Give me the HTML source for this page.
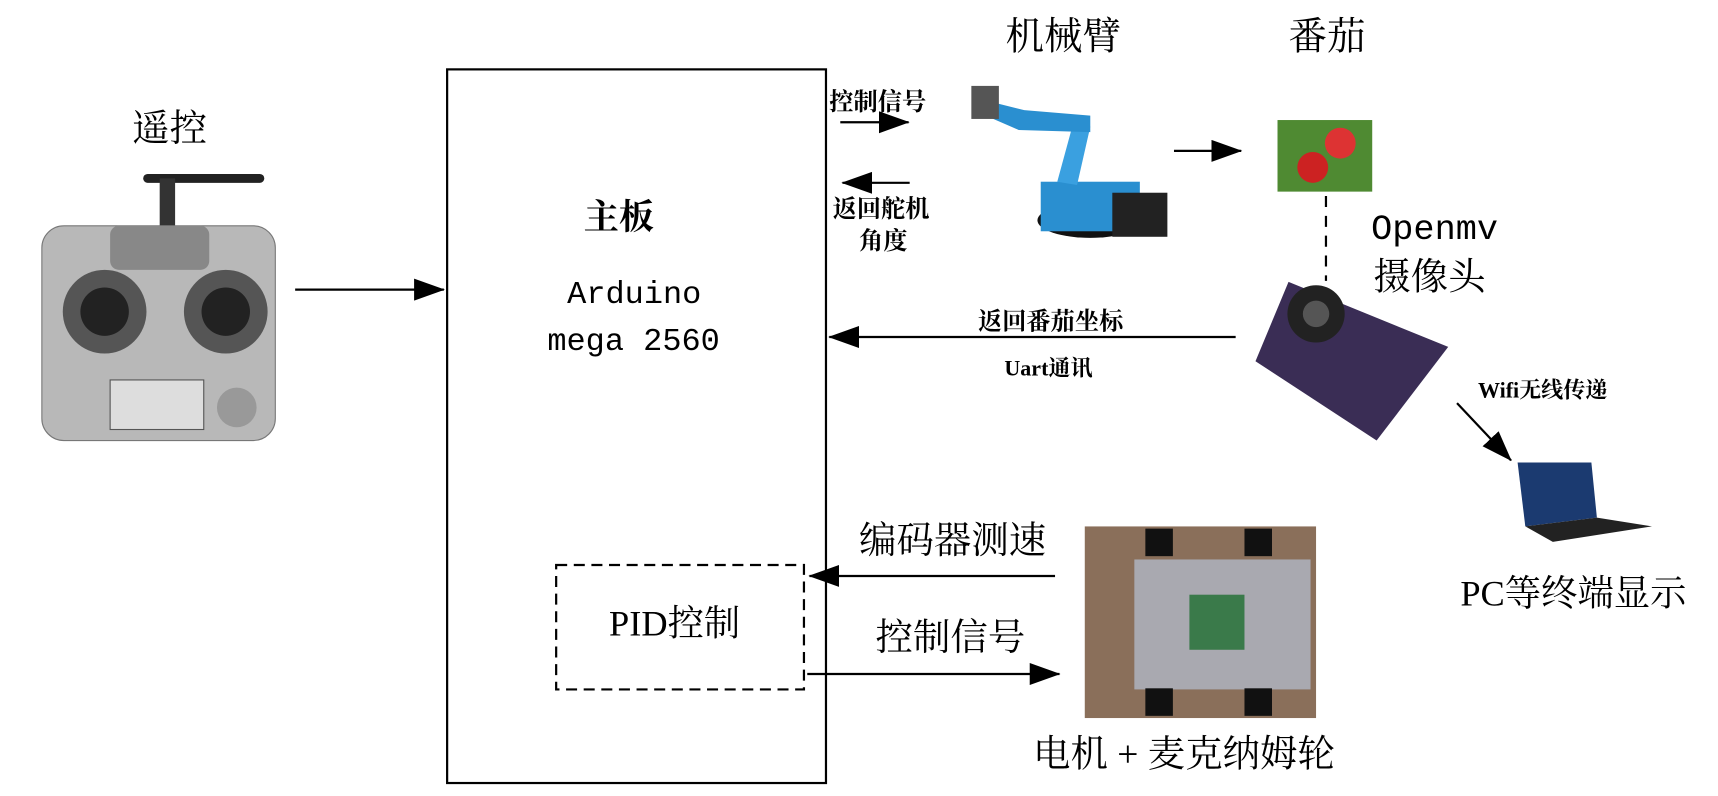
<!DOCTYPE html>
<html><head><meta charset="utf-8"><style>
html,body{margin:0;padding:0;background:#fff;width:1718px;height:796px;overflow:hidden}
#w{position:absolute;left:0;top:0;width:1560px;height:723px;transform:scale(1.1013);transform-origin:0 0}
.t{position:absolute;font-family:"Liberation Serif","Noto Serif CJK SC",serif;color:#000;white-space:nowrap;line-height:1}
.b{font-weight:bold}
.m{font-family:"Liberation Mono","Noto Sans CJK SC",monospace}
</style></head><body><div id="w">
<svg width="1560" height="723" style="position:absolute;left:0;top:0">
<defs><marker id="A" markerWidth="28" markerHeight="20" refX="27" refY="10" orient="auto" markerUnits="userSpaceOnUse"><path d="M0,0 L28,10 L0,20 z" fill="#000"/></marker></defs>
<rect x="406" y="63" width="344" height="648" fill="none" stroke="#000" stroke-width="2"/>
<rect x="505" y="513" width="225" height="113" fill="none" stroke="#000" stroke-width="2" stroke-dasharray="10,6"/>
<g stroke="#000" stroke-width="2" fill="none">
<line x1="268" y1="263" x2="403" y2="263" marker-end="url(#A)"/>
<line x1="763" y1="111" x2="825" y2="111" marker-end="url(#A)"/>
<line x1="826" y1="166" x2="765" y2="166" marker-end="url(#A)"/>
<line x1="1066" y1="137" x2="1127" y2="137" marker-end="url(#A)"/>
<line x1="1204" y1="178" x2="1204" y2="255" stroke-dasharray="10,8"/>
<line x1="1122" y1="306" x2="753" y2="306" marker-end="url(#A)"/>
<line x1="1323" y1="366" x2="1372" y2="418" marker-end="url(#A)"/>
<line x1="958" y1="523" x2="735" y2="523" marker-end="url(#A)"/>
<line x1="733" y1="612" x2="962" y2="612" marker-end="url(#A)"/>
</g>
<rect x="130" y="158" width="110" height="8" rx="4" fill="#222"/>
<rect x="145" y="162" width="14" height="45" fill="#333"/>
<rect x="38" y="205" width="212" height="195" rx="20" fill="#b8b8b8" stroke="#777"/>
<rect x="100" y="205" width="90" height="40" rx="8" fill="#888"/>
<circle cx="95" cy="283" r="38" fill="#555"/><circle cx="95" cy="283" r="22" fill="#222"/>
<circle cx="205" cy="283" r="38" fill="#555"/><circle cx="205" cy="283" r="22" fill="#222"/>
<rect x="100" y="345" width="85" height="45" fill="#ddd" stroke="#555"/>
<circle cx="215" cy="370" r="18" fill="#999"/>
<ellipse cx="990" cy="200" rx="48" ry="16" fill="#111"/>
<rect x="945" y="165" width="90" height="45" fill="#2a8fd0"/>
<rect x="1010" y="175" width="50" height="40" fill="#222"/>
<path d="M960,165 L975,110 L990,115 L978,168 z" fill="#3aa0e0"/>
<path d="M890,90 L930,100 L990,105 L990,120 L925,118 L895,105 z" fill="#2a8fd0"/>
<rect x="882" y="78" width="25" height="30" fill="#555"/>
<rect x="1160" y="109" width="86" height="65" fill="#4f8a32"/>
<circle cx="1217" cy="130" r="14" fill="#d33"/><circle cx="1192" cy="152" r="14" fill="#c22"/>
<polygon points="1170,256 1315,315 1250,400 1140,328" fill="#3a2d55"/>
<circle cx="1195" cy="285" r="26" fill="#222"/><circle cx="1195" cy="285" r="12" fill="#555"/>
<polygon points="1378,420 1445,420 1450,470 1385,478" fill="#1b3a70"/>
<polygon points="1385,478 1450,470 1500,478 1410,492" fill="#222"/>
<rect x="985" y="478" width="210" height="174" fill="#8a6f5a"/>
<rect x="1030" y="508" width="160" height="118" fill="#a9a9b0"/>
<rect x="1080" y="540" width="50" height="50" fill="#3a7a4a"/>
<rect x="1040" y="480" width="25" height="25" fill="#111"/><rect x="1130" y="480" width="25" height="25" fill="#111"/>
<rect x="1040" y="625" width="25" height="25" fill="#111"/><rect x="1130" y="625" width="25" height="25" fill="#111"/>
</svg>
<div class="t" style="left:120px;top:101px;font-size:34px">遥控</div>
<div class="t b" style="left:530px;top:181px;font-size:32px">主板</div>
<div class="t m" style="left:515px;top:253px;font-size:29px">Arduino</div>
<div class="t m" style="left:497px;top:296px;font-size:29px">mega 2560</div>
<div class="t b" style="left:753px;top:82px;font-size:22px">控制信号</div>
<div class="t b" style="left:756px;top:179px;font-size:22px">返回舵机</div>
<div class="t b" style="left:780px;top:208px;font-size:22px">角度</div>
<div class="t" style="left:913px;top:16px;font-size:35px">机械臂</div>
<div class="t" style="left:1170px;top:16px;font-size:35px">番茄</div>
<div class="t m" style="left:1245px;top:193px;font-size:32px">Openmv</div>
<div class="t" style="left:1247px;top:236px;font-size:34px">摄像头</div>
<div class="t b" style="left:888px;top:281px;font-size:22px">返回番茄坐标</div>
<div class="t b" style="left:912px;top:325px;font-size:20px">Uart通讯</div>
<div class="t b" style="left:1342px;top:345px;font-size:20px">Wifi无线传递</div>
<div class="t" style="left:1326px;top:524px;font-size:33px">PC等终端显示</div>
<div class="t" style="left:780px;top:475px;font-size:34px">编码器测速</div>
<div class="t" style="left:553px;top:551px;font-size:33px">PID控制</div>
<div class="t" style="left:795px;top:563px;font-size:34px">控制信号</div>
<div class="t" style="left:938px;top:669px;font-size:34px">电机 + 麦克纳姆轮</div>
</div></body></html>
